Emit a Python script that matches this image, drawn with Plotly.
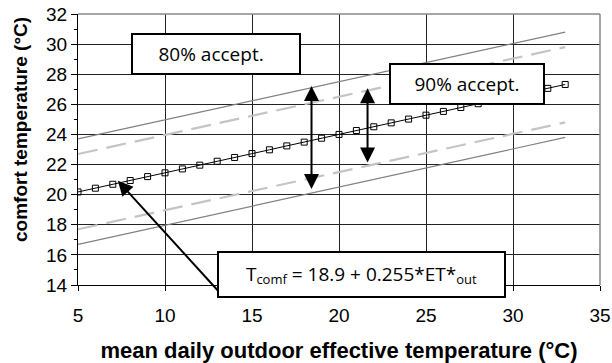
import plotly.graph_objects as go

# ---- data ----
et_out = [5, 6, 7, 8, 9, 10, 11, 12, 13, 14, 15, 16, 17, 18, 19, 20, 21, 22, 23, 24,
          25, 26, 27, 28, 29, 30, 31, 32, 33]
t_comf = [20.18, 20.43, 20.69, 20.94, 21.20, 21.45, 21.71, 21.96, 22.22, 22.47,
          22.73, 22.98, 23.24, 23.49, 23.75, 24.00, 24.26, 24.51, 24.77, 25.02,
          25.28, 25.53, 25.79, 26.04, 26.30, 26.55, 26.81, 27.06, 27.32]
band_x = [5, 33]
upper_80 = [23.7, 30.8]
lower_80 = [16.7, 23.8]
upper_90 = [22.7, 29.8]
lower_90 = [17.7, 24.8]
x_ticks = [5, 10, 15, 20, 25, 30, 35]
y_ticks = [14, 16, 18, 20, 22, 24, 26, 28, 30, 32]

fig = go.Figure()

solid = dict(color="#808080", width=1.2)
dashed = dict(color="#c4c4c4", width=2.2, dash="20px,9px")
fig.add_trace(go.Scatter(x=band_x, y=upper_80, mode="lines", line=solid, showlegend=False))
fig.add_trace(go.Scatter(x=band_x, y=lower_80, mode="lines", line=solid, showlegend=False))
fig.add_trace(go.Scatter(x=band_x, y=upper_90, mode="lines", line=dashed, showlegend=False))
fig.add_trace(go.Scatter(x=band_x, y=lower_90, mode="lines", line=dashed, showlegend=False))
fig.add_trace(go.Scatter(
    x=et_out, y=t_comf, mode="lines+markers",
    line=dict(color="black", width=1),
    marker=dict(symbol="square-open", size=6, color="black", line=dict(width=1)),
    showlegend=False))

tick_font = dict(family="Liberation Sans", size=19, color="black")
xtitle_font = dict(family="Liberation Sans", size=22, color="black")
ytitle_font = dict(family="Liberation Sans", size=19, color="black")

fig.update_xaxes(
    range=[5, 35], tickvals=x_ticks, showgrid=True, gridcolor="#222222", gridwidth=1,
    zeroline=False, showline=True, linecolor="black", linewidth=1, automargin=False,
    ticks="outside", ticklen=5, tickcolor="black", tickfont=tick_font,
    ticklabelstandoff=8,
    title=dict(text="<b>mean daily outdoor effective temperature (°C)</b>",
               font=xtitle_font, standoff=18))
fig.update_yaxes(
    range=[14, 32], tickvals=y_ticks, showgrid=True, gridcolor="#222222", gridwidth=1,
    zeroline=False, showline=True, linecolor="black", linewidth=1, automargin=False,
    ticks="outside", ticklen=6, tickcolor="black", tickfont=tick_font,
    minor=dict(dtick=1, ticks="outside", ticklen=3, tickcolor="black", showgrid=False))

# y-axis title placed as in the reference
fig.add_annotation(text="<b>comfort temperature (°C)</b>", textangle=-90,
                   xref="paper", yref="paper", x=(20 - 78) / 522, y=(285 - 130) / 271,
                   showarrow=False, font=ytitle_font, xanchor="center", yanchor="middle")

# top / right border in gray
fig.add_shape(type="line", xref="paper", yref="paper", x0=0, x1=1, y0=1, y1=1,
              line=dict(color="#888888", width=1.5))
fig.add_shape(type="line", xref="paper", yref="paper", x0=1, x1=1, y0=0, y1=1,
              line=dict(color="#888888", width=1.5))

box_font = dict(family="Open Sans, Noto Sans, sans-serif", size=19, color="black")

# double arrows
for xa, y0, y1 in [(18.42, 20.27, 27.22), (21.64, 22.04, 27.07)]:
    fig.add_annotation(x=xa, y=y1, ax=xa, ay=y0, xref="x", yref="y", axref="x", ayref="y",
                       text="", showarrow=True, arrowhead=2, arrowsize=1.5, arrowwidth=2,
                       arrowcolor="black", arrowside="end+start", startarrowhead=2,
                       startarrowsize=1.5)

# arrow from equation box
fig.add_annotation(x=7.29, y=20.93, ax=13.1, ay=13.55, xref="x", yref="y", axref="x", ayref="y",
                   text="", showarrow=True, arrowhead=2, arrowsize=1.5, arrowwidth=2,
                   arrowcolor="black")

# boxes
fig.add_annotation(x=12.91, y=29.34, xref="x", yref="y", text="80% accept.  ",
                   showarrow=False, font=box_font, bgcolor="white", bordercolor="black",
                   borderwidth=2, borderpad=0, width=166, height=38)
fig.add_annotation(x=27.35, y=27.35, xref="x", yref="y", text="90% accept.",
                   showarrow=False, font=box_font, bgcolor="white", bordercolor="black",
                   borderwidth=2, borderpad=0, width=152, height=38)
fig.add_annotation(x=21.28, y=14.70, xref="x", yref="y",
                   text="T<sub><span style='font-size:13px'>comf</span></sub> = 18.9 + 0.255*ET*"
                        "<sub><span style='font-size:13px'>out</span></sub>",
                   showarrow=False, font=box_font, bgcolor="white", bordercolor="black",
                   borderwidth=2, borderpad=0, width=285, height=43)

fig.update_layout(
    width=612, height=363, margin=dict(l=78, r=12, t=14, b=78),
    paper_bgcolor="white", plot_bgcolor="white", showlegend=False)

fig.write_html("out.html")
